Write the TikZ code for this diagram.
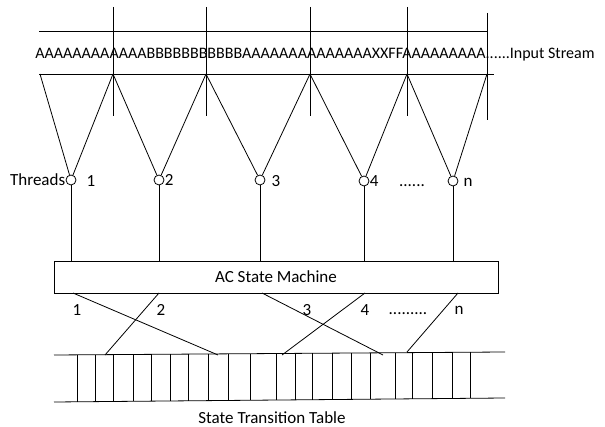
\documentclass[tikz,border=0pt]{standalone}
\usepackage{fontspec}
\setmainfont{Carlito}
\begin{document}
\begin{tikzpicture}[x=1pt, y=-1pt, line width=0.8pt,
    font=\fontsize{17}{20}\selectfont,
    thread/.style={draw, circle, inner sep=0pt, minimum size=10pt},
    lbl/.style={inner sep=0pt}]
    \useasboundingbox (0,0) rectangle (605,427);

    % input stream
    \draw (39,31) -- (487,31);
    \draw (39,74) -- (494,74);
    \node[lbl, anchor=west, font=\fontsize{16}{19}\selectfont] (S) at (35,55) {AAAAAAAAAAAABBBBBBBBBBBAAAAAAAAAAAAAAXXFFAAAAAAAAA......Input Stream};

    \coordinate (p0) at (40,74);
    \coordinate (p1) at (113,74);
    \coordinate (p2) at (206,74);
    \coordinate (p3) at (310,74);
    \coordinate (p4) at (407,74);
    \coordinate (p5) at (487,74);

    \foreach \i in {1,...,4}
        \draw (p\i) ++(0,-67) -- ++(0,109);
    \draw (p5) ++(0,-61) -- ++(0,107);

    % threads
    \node[thread] (t1) at (71,180) {};
    \node[thread] (t2) at (159,180) {};
    \node[thread] (t3) at (260,180) {};
    \node[thread] (t4) at (364,181) {};
    \node[thread] (t5) at (453,181) {};

    \draw (p0) -- (t1);  \draw (p1) -- (t1);
    \draw (p1) -- (t2);  \draw (p2) -- (t2);
    \draw (p2) -- (t3);  \draw (p3) -- (t3);
    \draw (p3) -- (t4);  \draw (p4) -- (t4);
    \draw (p4) -- (t5);  \draw (p5) -- (t5);

    \node[lbl, anchor=east] (thr) at (t1.west) {Threads};
    \node[lbl] (n1) at (91,181) {1};
    \node[lbl, anchor=west] (n2) at (t2.east) {2};
    \node[lbl] (n3) at (276,181) {3};
    \node[lbl, anchor=west] (n4) at (t4.east) {4};
    \node[lbl, anchor=base] (nd) at (412,187) {......};
    \node[lbl] (nn) at (468,182) {n};

    % state machine
    \node[draw, minimum width=444pt, minimum height=32pt] (acsm) at (276,277) {AC State Machine};

    \foreach \i in {1,...,5}
        \draw (t\i.south) -- (t\i.south |- acsm.north);

    \coordinate (b1) at (73,293);   \coordinate (e1) at (218,355);
    \coordinate (b2) at (159,293);  \coordinate (e2) at (105,355);
    \coordinate (b3) at (262,293);  \coordinate (e3) at (383,355);
    \coordinate (b4) at (365,293);  \coordinate (e4) at (282,355);
    \coordinate (b5) at (458,293);  \coordinate (e5) at (407,352);
    \foreach \i in {1,...,5}
        \draw (b\i) -- (e\i);

    \node[lbl] (m1) at (77,310) {1};
    \node[lbl] (m2) at (161,310) {2};
    \node[lbl] (m3) at (307,310) {3};
    \node[lbl] (m4) at (365,310) {4};
    \node[lbl, anchor=base] (md) at (408,315) {.........};
    \node[lbl] (mn) at (459,310) {n};

    % transition table
    \draw (54,355) -- (505,352);
    \draw (54,402) -- (505,398);
    \foreach \x in {77,95,113,133,151,170,188,208,228,250,276,295,312,332,351,370,395,412,432,452,470}
        \draw (\x,{355-3*(\x-54)/451}) -- (\x,{402-4*(\x-54)/451});

    \node[lbl] (stt) at (272,418) {State Transition Table};
\end{tikzpicture}
\end{document}
